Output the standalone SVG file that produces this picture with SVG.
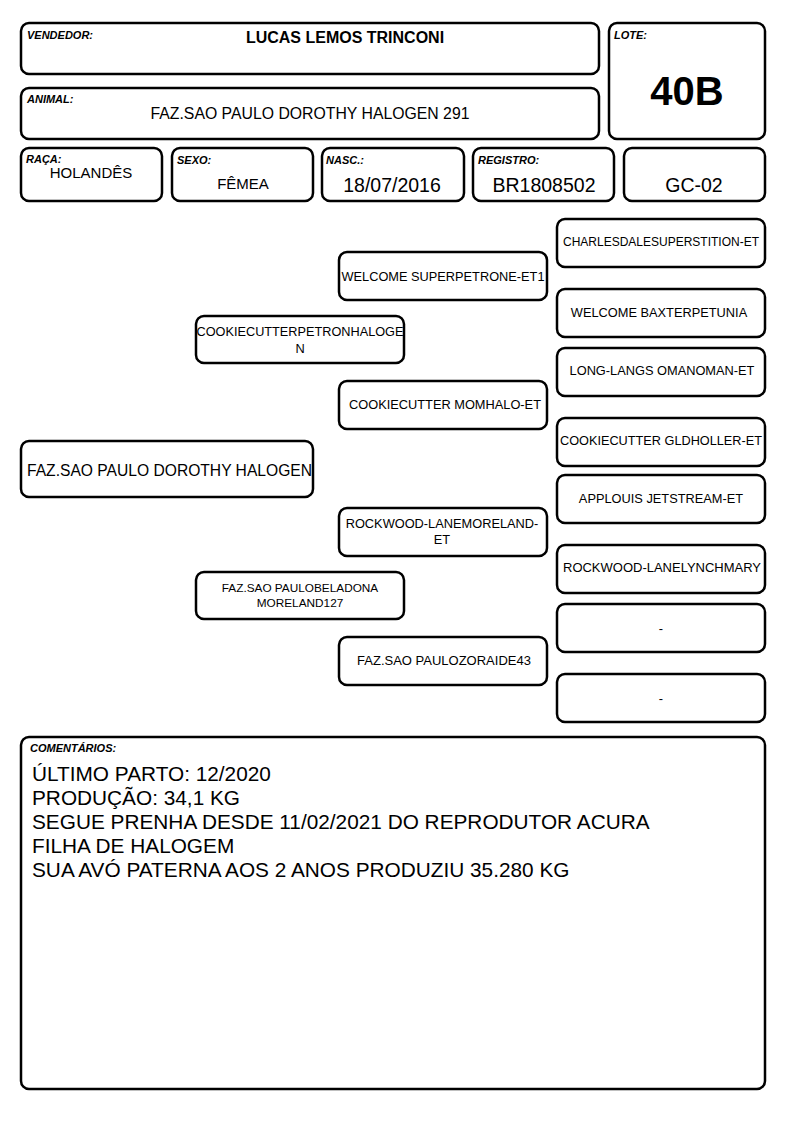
<svg xmlns="http://www.w3.org/2000/svg" width="794" height="1123" viewBox="0 0 794 1123">
<style>
.b{fill:#fff;stroke:#000;stroke-width:2.5}
.lb{font-family:"Liberation Sans",Arial,sans-serif;font-size:11px;font-weight:bold;font-style:italic}
.t{font-family:"Liberation Sans",Arial,sans-serif;fill:#000}
.c{text-anchor:middle}
.p{font-family:"Liberation Sans",Arial,sans-serif;font-size:12.8px;text-anchor:middle}
</style>
<rect width="794" height="1123" fill="#fff"/>
<g id="vendedor"><rect class="b" x="21" y="23" width="578" height="51" rx="8"/><text class="lb" x="27" y="39">VENDEDOR:</text><text class="t c" x="345" y="43" font-size="16" font-weight="bold">LUCAS LEMOS TRINCONI</text></g>
<g id="animal"><rect class="b" x="21" y="88" width="578" height="51" rx="8"/><text class="lb" x="27" y="103">ANIMAL:</text><text class="t c" x="310" y="119" font-size="15.8">FAZ.SAO PAULO DOROTHY HALOGEN 291</text></g>
<g id="lote"><rect class="b" x="609" y="23" width="156" height="116" rx="8"/><text class="lb" x="614" y="39">LOTE:</text><text class="t c" x="687" y="105" font-size="40" font-weight="bold">40B</text></g>
<g id="raca"><rect class="b" x="21" y="148" width="141" height="53" rx="8"/><text class="lb" x="26" y="163">RAÇA:</text><text class="t c" x="91" y="178" font-size="15">HOLANDÊS</text></g>
<g id="sexo"><rect class="b" x="172" y="148" width="141" height="53" rx="8"/><text class="lb" x="177" y="164">SEXO:</text><text class="t c" x="243" y="189" font-size="15">FÊMEA</text></g>
<g id="nasc"><rect class="b" x="322" y="148" width="142" height="53" rx="8"/><text class="lb" x="326" y="164">NASC.:</text><text class="t c" x="392" y="192" font-size="19.5">18/07/2016</text></g>
<g id="registro"><rect class="b" x="473" y="148" width="141" height="53" rx="8"/><text class="lb" x="478" y="164">REGISTRO:</text><text class="t c" x="544" y="192" font-size="19.5">BR1808502</text></g>
<g id="gc"><rect class="b" x="624" y="148" width="141" height="53" rx="8"/><text class="t c" x="694" y="192" font-size="19.5">GC-02</text></g>
<g id="connectors"></g>
<g id="main"><rect class="b" x="21" y="441" width="292" height="56" rx="8"/><text class="t" x="27" y="476" font-size="16" textLength="285" lengthAdjust="spacingAndGlyphs">FAZ.SAO PAULO DOROTHY HALOGEN</text></g>
<g id="sire"><rect class="b" x="196" y="316" width="208" height="47" rx="8"/><text class="p" x="300" y="336" textLength="207" lengthAdjust="spacingAndGlyphs">COOKIECUTTERPETRONHALOGE</text><text class="p" x="300" y="353">N</text></g>
<g id="dam"><rect class="b" x="196" y="572" width="208" height="47" rx="8"/><text class="p" x="300" y="592" style="font-size:11.8px">FAZ.SAO PAULOBELADONA</text><text class="p" x="300" y="607" style="font-size:11.8px">MORELAND127</text></g>
<g id="ss"><rect class="b" x="339" y="252" width="208" height="48" rx="8"/><text class="p" x="443" y="281" textLength="203" lengthAdjust="spacingAndGlyphs">WELCOME SUPERPETRONE-ET1</text></g>
<g id="sd"><rect class="b" x="339" y="381" width="208" height="48" rx="8"/><text class="p" x="445" y="409">COOKIECUTTER MOMHALO-ET</text></g>
<g id="ds"><rect class="b" x="339" y="508" width="208" height="48" rx="8"/><text class="p" x="442" y="528">ROCKWOOD-LANEMORELAND-</text><text class="p" x="442" y="544">ET</text></g>
<g id="dd"><rect class="b" x="339" y="637" width="208" height="48" rx="8"/><text class="p" x="444" y="665" style="font-size:13px">FAZ.SAO PAULOZORAIDE43</text></g>
<g id="sss"><rect class="b" x="557" y="219" width="208" height="48" rx="8"/><text class="p" x="661" y="246" style="font-size:12px">CHARLESDALESUPERSTITION-ET</text></g>
<g id="ssd"><rect class="b" x="557" y="289" width="208" height="48" rx="8"/><text class="p" x="659" y="317">WELCOME BAXTERPETUNIA</text></g>
<g id="sds"><rect class="b" x="557" y="348" width="208" height="48" rx="8"/><text class="p" x="662" y="375">LONG-LANGS OMANOMAN-ET</text></g>
<g id="sdd"><rect class="b" x="557" y="418" width="208" height="48" rx="8"/><text class="p" x="661" y="445" textLength="202" lengthAdjust="spacingAndGlyphs">COOKIECUTTER GLDHOLLER-ET</text></g>
<g id="dss"><rect class="b" x="557" y="475" width="208" height="48" rx="8"/><text class="p" x="661" y="503">APPLOUIS JETSTREAM-ET</text></g>
<g id="dsd"><rect class="b" x="557" y="545" width="208" height="48" rx="8"/><text class="p" x="662" y="572" textLength="198" lengthAdjust="spacingAndGlyphs">ROCKWOOD-LANELYNCHMARY</text></g>
<g id="dds"><rect class="b" x="557" y="604" width="208" height="48" rx="8"/><text class="p" x="661" y="633">-</text></g>
<g id="ddd"><rect class="b" x="557" y="674" width="208" height="48" rx="8"/><text class="p" x="661" y="703">-</text></g>
<g id="comentarios"><rect class="b" x="21" y="737" width="744" height="352" rx="8"/><text class="lb" x="30" y="752">COMENTÁRIOS:</text>
<g class="t" font-size="20.8"><text x="32" y="781">ÚLTIMO PARTO: 12/2020</text><text x="32" y="805">PRODUÇÃO: 34,1 KG</text><text x="32" y="829">SEGUE PRENHA DESDE 11/02/2021 DO REPRODUTOR ACURA</text><text x="32" y="853">FILHA DE HALOGEM</text><text x="32" y="877">SUA AVÓ PATERNA AOS 2 ANOS PRODUZIU 35.280 KG</text></g></g>
</svg>
